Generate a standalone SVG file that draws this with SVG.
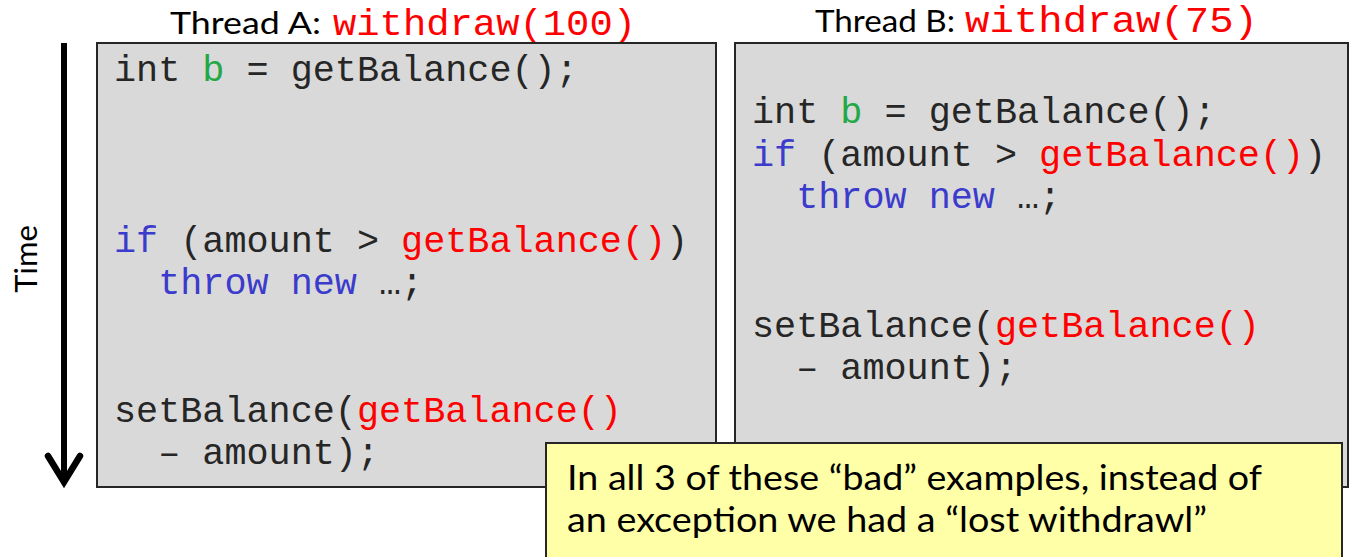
<svg xmlns="http://www.w3.org/2000/svg" width="1350" height="557" viewBox="0 0 1350 557">
<style>
.box{fill:#d9d9d9;stroke:#262626;stroke-width:2}
.code{font-family:"Liberation Mono","Courier New",monospace;font-size:36.8px;fill:#262626}
.r{fill:#ff0000}
.g{fill:#22a845}
.b{fill:#3b3bcc}
.sans{font-family:Lato,"Liberation Sans",sans-serif;font-size:31px;fill:#000}
.note{fill:#ffffa8;stroke:#262626;stroke-width:2}
.ntxt{font-family:Lato,"Liberation Sans",sans-serif;font-size:35px;fill:#000}
</style>
<rect width="1350" height="557" fill="#fff"/>
<g id="time">
<text class="sans" font-size="34" transform="translate(37,259) rotate(-90)" text-anchor="middle">Time</text>
</g>
<g id="connectors">
<line x1="64" y1="43" x2="64" y2="480" stroke="#000" stroke-width="6"/>
<polyline points="48,456 64,482 80,456" fill="none" stroke="#000" stroke-width="6.5" stroke-linecap="round" stroke-linejoin="miter"/>
</g>
<g id="threadA">
<text class="sans" y="34" x="170" textLength="151" lengthAdjust="spacingAndGlyphs">Thread A:</text>
<text class="code r" x="333" y="35" textLength="303" lengthAdjust="spacingAndGlyphs">withdraw(100)</text>
<rect class="box" x="97" y="43" width="619" height="444"/>
<text class="code" xml:space="preserve"><tspan x="114" y="81">int <tspan class="g">b</tspan> = getBalance();</tspan><tspan x="114" y="252"><tspan class="b">if</tspan> (amount &gt; <tspan class="r">getBalance()</tspan>)</tspan><tspan x="114" y="294">  <tspan class="b">throw new</tspan> …;</tspan><tspan x="114" y="422">setBalance(<tspan class="r">getBalance()</tspan></tspan><tspan x="114" y="464">  – amount);</tspan></text>
</g>
<g id="threadB">
<text class="sans" y="32" x="815" textLength="140" lengthAdjust="spacingAndGlyphs">Thread B:</text>
<text class="code r" x="965" y="32" textLength="293" lengthAdjust="spacingAndGlyphs">withdraw(75)</text>
<rect class="box" x="735" y="43" width="613" height="444"/>
<text class="code" xml:space="preserve"><tspan x="752" y="123">int <tspan class="g">b</tspan> = getBalance();</tspan><tspan x="752" y="166"><tspan class="b">if</tspan> (amount &gt; <tspan class="r">getBalance()</tspan>)</tspan><tspan x="752" y="208">  <tspan class="b">throw new</tspan> …;</tspan><tspan x="752" y="337">setBalance(<tspan class="r">getBalance()</tspan></tspan><tspan x="752" y="379">  – amount);</tspan></text>
</g>
<g id="note">
<rect class="note" x="546" y="443" width="796" height="120"/>
<text class="ntxt" x="567" y="490" textLength="695" lengthAdjust="spacingAndGlyphs">In all 3 of these “bad” examples, instead of</text>
<text class="ntxt" x="567" y="532" textLength="640" lengthAdjust="spacingAndGlyphs">an exception we had a “lost withdrawl”</text>
</g>
</svg>
